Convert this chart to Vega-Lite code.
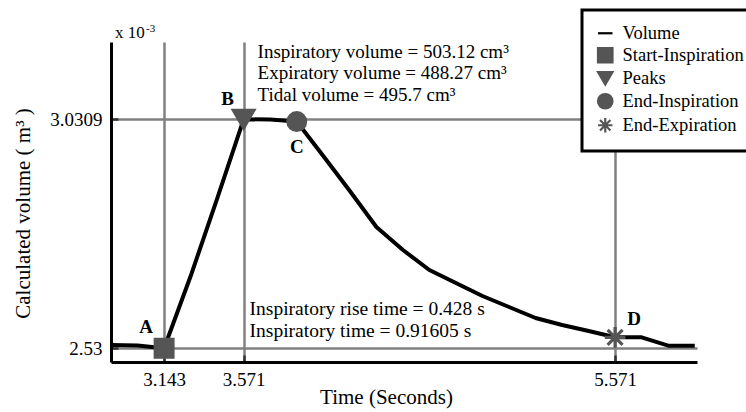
{
  "$schema": "https://vega.github.io/schema/vega-lite/v6.json",
  "width": 586,
  "height": 320,
  "autosize": "none",
  "padding": {"left": 111, "top": 42, "right": 49, "bottom": 50},
  "background": "white",
  "config": {
    "view": {"stroke": null},
    "font": "Liberation Serif",
    "legend": {
      "orient": "none",
      "legendX": 471,
      "legendY": -32,
      "title": null,
      "labelFont": "Liberation Serif",
      "labelFontSize": 18.5,
      "labelColor": "black",
      "strokeColor": "black",
      "strokeWidth": 3,
      "fillColor": "white",
      "padding": 14,
      "rowPadding": 0,
      "symbolSize": 210,
      "symbolStrokeWidth": 2.2,
      "labelOffset": 8,
      "cornerRadius": 0
    }
  },
  "datasets": {
    "curve": [
      {"time": 2.857, "volume": 2.5372},
      {"time": 3.0, "volume": 2.5361},
      {"time": 3.143, "volume": 2.53},
      {"time": 3.286, "volume": 2.688},
      {"time": 3.429, "volume": 2.858},
      {"time": 3.571, "volume": 3.0309},
      {"time": 3.714, "volume": 3.0305},
      {"time": 3.857, "volume": 3.026},
      {"time": 4.0, "volume": 2.9506},
      {"time": 4.143, "volume": 2.874},
      {"time": 4.286, "volume": 2.7953},
      {"time": 4.429, "volume": 2.745},
      {"time": 4.571, "volume": 2.7013},
      {"time": 4.714, "volume": 2.6728},
      {"time": 4.857, "volume": 2.6444},
      {"time": 5.0, "volume": 2.6203},
      {"time": 5.143, "volume": 2.5963},
      {"time": 5.286, "volume": 2.5809},
      {"time": 5.429, "volume": 2.5678},
      {"time": 5.571, "volume": 2.554},
      {"time": 5.714, "volume": 2.554},
      {"time": 5.857, "volume": 2.5357},
      {"time": 6.0, "volume": 2.5357}
    ],
    "events": [
      {"time": 3.143, "volume": 2.53, "event": "Start-Inspiration", "label": "A"},
      {"time": 3.571, "volume": 3.0309, "event": "Peaks", "label": "B"},
      {"time": 3.857, "volume": 3.026, "event": "End-Inspiration", "label": "C"},
      {"time": 5.571, "volume": 2.554, "event": "End-Expiration", "label": "D"}
    ],
    "notes": [
      {"time": 3.571, "volume": 3.0309, "note": "volumes"},
      {"time": 3.571, "volume": 2.53, "note": "times"},
      {"time": 2.857, "volume": 3.2, "note": "scale"}
    ]
  },
  "encoding": {
    "x": {
      "field": "time",
      "type": "quantitative",
      "scale": {"domain": [2.857, 6.012], "nice": false, "zero": false},
      "axis": {
        "values": [3.143, 3.571, 5.571],
        "format": ".3f",
        "title": "Time (Seconds)",
        "grid": true,
        "gridColor": "#808080",
        "gridWidth": 2.5,
        "domainColor": "black",
        "domainWidth": 3,
        "tickColor": "#333333",
        "tickWidth": 2.5,
        "tickSize": -7,
        "labelPadding": 15,
        "labelFont": "Liberation Serif",
        "labelFontSize": 19,
        "labelColor": "black",
        "labelFlush": false,
        "labelOverlap": false,
        "titleFont": "Liberation Serif",
        "titleFontSize": 21,
        "titleFontWeight": "normal",
        "titleColor": "black",
        "titleX": 275,
        "titleY": 41,
        "titleBaseline": "alphabetic"
      }
    },
    "y": {
      "field": "volume",
      "type": "quantitative",
      "scale": {"domain": [2.5, 3.2], "nice": false, "zero": false},
      "axis": {
        "values": [2.53, 3.0309],
        "format": ".4~f",
        "title": "Calculated volume ( m³ )",
        "grid": true,
        "gridColor": "#808080",
        "gridWidth": 2.5,
        "domainColor": "black",
        "domainWidth": 3,
        "tickColor": "#333333",
        "tickWidth": 2.5,
        "tickSize": -7,
        "labelPadding": 16,
        "labelFont": "Liberation Serif",
        "labelFontSize": 19,
        "labelColor": "black",
        "labelFlush": false,
        "labelOverlap": false,
        "titleFont": "Liberation Serif",
        "titleFontSize": 21,
        "titleFontWeight": "normal",
        "titleColor": "black",
        "titleX": -82,
        "titleY": 171,
        "titleAngle": -90,
        "titleAlign": "center",
        "titleBaseline": "alphabetic"
      }
    },
    "shape": {
      "field": "event",
      "type": "nominal",
      "scale": {
        "domain": ["Volume", "Start-Inspiration", "Peaks", "End-Inspiration", "End-Expiration"],
        "range": ["stroke", "square", "triangle-down", "circle", "M-1,0L1,0M0,-1L0,1M-0.72,-0.72L0.72,0.72M-0.72,0.72L0.72,-0.72"]
      },
      "legend": {"title": null, "symbolSize": 210}
    },
    "fill": {
      "field": "event",
      "type": "nominal",
      "scale": {
        "domain": ["Volume", "Start-Inspiration", "Peaks", "End-Inspiration", "End-Expiration"],
        "range": ["#000000", "#555555", "#555555", "#555555", "#555555"]
      },
      "legend": {"title": null, "symbolSize": 210}
    },
    "stroke": {
      "field": "event",
      "type": "nominal",
      "scale": {
        "domain": ["Volume", "Start-Inspiration", "Peaks", "End-Inspiration", "End-Expiration"],
        "range": ["#000000", "#555555", "#555555", "#555555", "#555555"]
      },
      "legend": {"title": null, "symbolSize": 210}
    }
  },
  "layer": [
    {
      "data": {"name": "curve"},
      "mark": {"type": "line", "color": "black", "strokeWidth": 4, "strokeJoin": "round"},
      "encoding": {"shape": null, "fill": null, "stroke": null}
    },
    {
      "data": {"name": "events"},
      "transform": [{"filter": "datum.label === 'A'"}],
      "mark": {"type": "point", "filled": true, "size": 340, "strokeWidth": 2.5, "opacity": 1}
    },
    {
      "data": {"name": "events"},
      "transform": [{"filter": "datum.label === 'B'"}],
      "mark": {"type": "point", "filled": true, "size": 470, "strokeWidth": 2.5, "opacity": 1}
    },
    {
      "data": {"name": "events"},
      "transform": [{"filter": "datum.label === 'C'"}],
      "mark": {"type": "point", "filled": true, "size": 340, "strokeWidth": 2.5, "opacity": 1}
    },
    {
      "data": {"name": "events"},
      "transform": [{"filter": "datum.label === 'D'"}],
      "mark": {"type": "point", "filled": true, "size": 430, "strokeWidth": 3.2, "opacity": 1}
    },
    {
      "data": {"name": "events"},
      "transform": [{"filter": "datum.label === 'A'"}],
      "mark": {"type": "text", "font": "Liberation Serif", "fontWeight": "bold", "fontSize": 19, "color": "black", "align": "center", "baseline": "middle", "dx": -18, "dy": -21},
      "encoding": {"text": {"field": "label"}, "shape": null, "fill": null, "stroke": null}
    },
    {
      "data": {"name": "events"},
      "transform": [{"filter": "datum.label === 'B'"}],
      "mark": {"type": "text", "font": "Liberation Serif", "fontWeight": "bold", "fontSize": 19, "color": "black", "align": "center", "baseline": "middle", "dx": -16, "dy": -20},
      "encoding": {"text": {"field": "label"}, "shape": null, "fill": null, "stroke": null}
    },
    {
      "data": {"name": "events"},
      "transform": [{"filter": "datum.label === 'C'"}],
      "mark": {"type": "text", "font": "Liberation Serif", "fontWeight": "bold", "fontSize": 19, "color": "black", "align": "center", "baseline": "middle", "dx": 0, "dy": 25},
      "encoding": {"text": {"field": "label"}, "shape": null, "fill": null, "stroke": null}
    },
    {
      "data": {"name": "events"},
      "transform": [{"filter": "datum.label === 'D'"}],
      "mark": {"type": "text", "font": "Liberation Serif", "fontWeight": "bold", "fontSize": 19, "color": "black", "align": "center", "baseline": "middle", "dx": 19, "dy": -18},
      "encoding": {"text": {"field": "label"}, "shape": null, "fill": null, "stroke": null}
    },
    {
      "data": {"name": "notes"},
      "transform": [{"filter": "datum.note === 'volumes'"}],
      "mark": {"type": "text", "font": "Liberation Serif", "fontSize": 19, "color": "black", "align": "left", "baseline": "alphabetic", "dx": 14, "dy": -61, "lineHeight": 21.2,
        "text": ["Inspiratory volume = 503.12 cm³", "Expiratory volume = 488.27 cm³", "Tidal volume = 495.7 cm³"]},
      "encoding": {"shape": null, "fill": null, "stroke": null}
    },
    {
      "data": {"name": "notes"},
      "transform": [{"filter": "datum.note === 'times'"}],
      "mark": {"type": "text", "font": "Liberation Serif", "fontSize": 19.5, "color": "black", "align": "left", "baseline": "alphabetic", "dx": 6, "dy": -33, "lineHeight": 21.5,
        "text": ["Inspiratory rise time = 0.428 s", "Inspiratory time = 0.91605 s"]},
      "encoding": {"shape": null, "fill": null, "stroke": null}
    },
    {
      "data": {"name": "notes"},
      "transform": [{"filter": "datum.note === 'scale'"}],
      "mark": {"type": "text", "font": "Liberation Serif", "fontSize": 17, "color": "black", "align": "left", "baseline": "alphabetic", "dx": 4, "dy": -4, "text": "x 10"},
      "encoding": {"shape": null, "fill": null, "stroke": null}
    },
    {
      "data": {"name": "notes"},
      "transform": [{"filter": "datum.note === 'scale'"}],
      "mark": {"type": "text", "font": "Liberation Serif", "fontSize": 11, "color": "black", "align": "left", "baseline": "alphabetic", "dx": 35, "dy": -10, "text": "-3"},
      "encoding": {"shape": null, "fill": null, "stroke": null}
    }
  ]
}
